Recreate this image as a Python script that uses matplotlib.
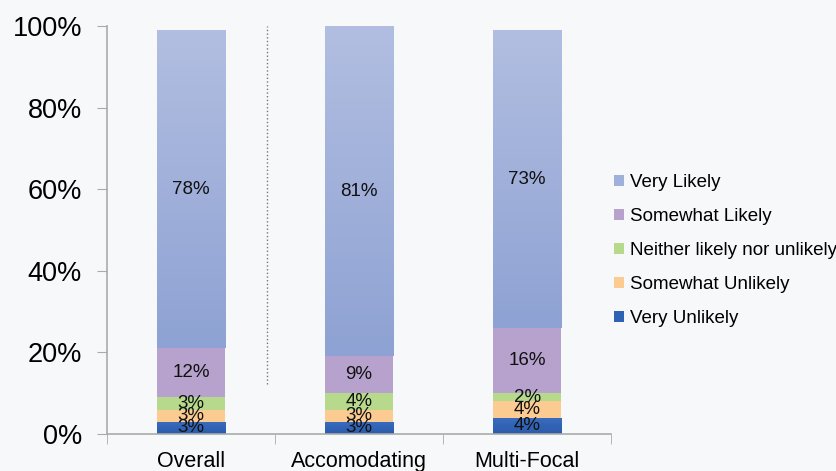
import numpy as np
import matplotlib.pyplot as plt
from matplotlib.colors import LinearSegmentedColormap

plt.rcParams['font.family'] = ['Liberation Sans', 'DejaVu Sans']

categories = ["Overall", "Accomodating", "Multi-Focal"]
series = ["Very Unlikely", "Somewhat Unlikely", "Neither likely nor unlikely",
          "Somewhat Likely", "Very Likely"]
very_unlikely = [3, 3, 4]
somewhat_unlikely = [3, 3, 4]
neither = [3, 4, 2]
somewhat_likely = [12, 9, 16]
very_likely = [78, 81, 73]

values = [very_unlikely, somewhat_unlikely, neither, somewhat_likely, very_likely]
colors = ["#2f62b3", "#fbcb92", "#b6d98c", "#b7a2cd", "#9fb0da"]
grads = [("#2a5bab", "#3a6cc0"), None, None, None, ("#8ea2d3", "#b2bee1")]
yticks = [0, 20, 40, 60, 80, 100]

bg = "#f7f8fa"
fig = plt.figure(figsize=(8.36, 4.71), dpi=100, facecolor=bg)
ax = fig.add_axes([0.128, 0.0786, 0.603, 0.866], facecolor=bg)

x = np.arange(len(categories))
width = 0.405
bottom = np.zeros(len(categories))
handles = []
for name, vals, col, grad in zip(series, values, colors, grads):
    vals = np.array(vals, dtype=float)
    bars = ax.bar(x, vals, width, bottom=bottom, color=col, label=name, zorder=2)
    handles.append(bars)
    if grad is not None:
        cmap = LinearSegmentedColormap.from_list("g", [grad[0], grad[1]])
        for b in bars:
            x0, y0 = b.get_x(), b.get_y()
            w, h = b.get_width(), b.get_height()
            im = ax.imshow(np.linspace(0, 1, 100).reshape(-1, 1), cmap=cmap,
                           extent=[x0, x0 + w, y0, y0 + h], origin="lower",
                           aspect="auto", zorder=2.5)
            im.set_clip_path(b)
    for xi, v, b0 in zip(x, vals, bottom):
        ax.text(xi, b0 + v / 2, f"{int(v)}%", ha="center", va="center",
                fontsize=13.5, color="#111111", zorder=4)
    bottom += vals

# dotted separator
ax.plot([0.45, 0.45], [12.2, 100], linestyle=":", color="#777777", lw=1, zorder=1)

ax.set_xlim(-0.5, 2.5)
ax.set_ylim(0, 100)
ax.set_yticks(yticks)
ax.set_yticklabels([f"{t}%" for t in yticks], fontsize=19.5)
ax.set_xticks(x)
ax.set_xticklabels(categories, fontsize=15.5)
ax.set_xticks([-0.5, 0.5, 1.5, 2.5], minor=True)
ax.tick_params(axis="x", which="major", length=0, pad=12)
ax.tick_params(axis="x", which="minor", length=7, color="#aaaaaa", direction="out")
ax.tick_params(axis="y", length=7, color="#aaaaaa", pad=11)

for s in ["top", "right"]:
    ax.spines[s].set_visible(False)
for s in ["left", "bottom"]:
    ax.spines[s].set_color("#aaaaaa")
    ax.spines[s].set_linewidth(1.2)

leg = ax.legend(handles[::-1], series[::-1], loc="upper left",
                bbox_to_anchor=(0.99, 0.655), frameon=False, fontsize=13.5,
                handlelength=0.55, handleheight=0.55, handletextpad=0.3,
                labelspacing=0.9, borderaxespad=0)

fig.savefig("out.png", dpi=100, facecolor=bg)
